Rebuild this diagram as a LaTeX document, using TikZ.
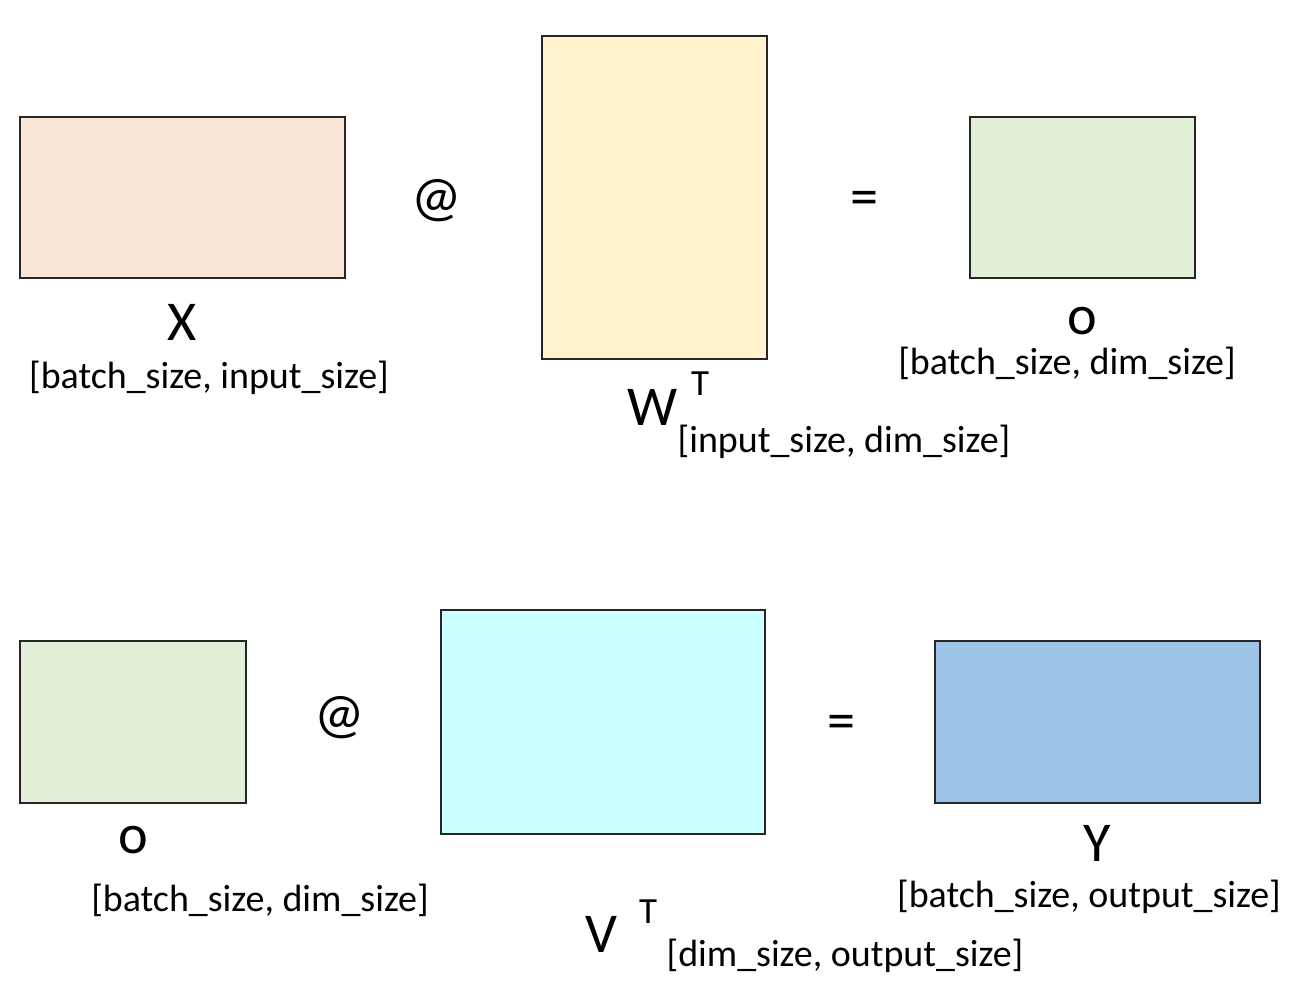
\documentclass[tikz,border=0pt]{standalone}
\usepackage{fontspec}
\setmainfont{Carlito}
\usepackage{tikz}
\usetikzlibrary{positioning}
\definecolor{xfill}{HTML}{FBE5D6}
\definecolor{wfill}{HTML}{FFF2CC}
\definecolor{ofill}{HTML}{E2F0D9}
\definecolor{vfill}{HTML}{CCFFFF}
\definecolor{yfill}{HTML}{9DC3E6}
\definecolor{edge}{HTML}{262626}

\begin{document}
\begin{tikzpicture}[x=0.01cm, y=-0.01cm,
    mat/.style={rectangle, draw=edge, fill=#1, line width=0.7pt,
                inner sep=0pt, outer sep=0pt},
    matname/.style={font=\fontsize{16}{18}\selectfont, inner sep=0pt},
    matdims/.style={font=\fontsize{10.8}{13}\selectfont, inner sep=0pt},
    tsup/.style={font=\fontsize{10.5}{12}\selectfont, inner sep=0pt},
    opsign/.style={font=\fontsize{16}{18}\selectfont, inner sep=0pt}
]
\useasboundingbox (0,0) rectangle (1297,1002);

% top row: X @ W^T = o
\node[mat=xfill, minimum width=3.25cm, minimum height=1.61cm] (X) at (182.5,197.5) {};
\node[mat=wfill, minimum width=2.25cm, minimum height=3.23cm] (W) at (654.5,197.5) {};
\node[mat=ofill, minimum width=2.25cm, minimum height=1.61cm] (o1) at (1082.5,197.5) {};

\node[opsign] (at1) at (437,201) {@};
\node[opsign] (eq1) at (865,203) {=};

\node[matname] (Xname) at (182,322) {X};
\node[matdims] (Xdims) at (209,378) {[batch\_size, input\_size]};
\node[matname] (Wname) at (653,407) {W};
\node[tsup] (Wsup) at (700,384) {T};
\node[matdims] (Wdims) at (844,442) {[input\_size, dim\_size]};
\node[matname] (o1name) at (1082,321) {o};
\node[matdims] (o1dims) at (1067,363) {[batch\_size, dim\_size]};

% bottom row: o @ V^T = Y
\node[mat=ofill, minimum width=2.26cm, minimum height=1.62cm] (o2) at (133,722) {};
\node[mat=vfill, minimum width=3.24cm, minimum height=2.24cm] (V) at (603,722) {};
\node[mat=yfill, minimum width=3.25cm, minimum height=1.62cm] (Y) at (1097.5,722) {};

\node[opsign] (at2) at (340,718) {@};
\node[opsign] (eq2) at (842,727) {=};

\node[matname] (o2name) at (133,840) {o};
\node[matdims] (o2dims) at (260,900) {[batch\_size, dim\_size]};
\node[matname] (Vname) at (601,934) {V};
\node[tsup] (Vsup) at (648,912) {T};
\node[matdims] (Vdims) at (845,956) {[dim\_size, output\_size]};
\node[matname] (Yname) at (1097,843) {Y};
\node[matdims] (Ydims) at (1089,897) {[batch\_size, output\_size]};
\end{tikzpicture}
\end{document}
